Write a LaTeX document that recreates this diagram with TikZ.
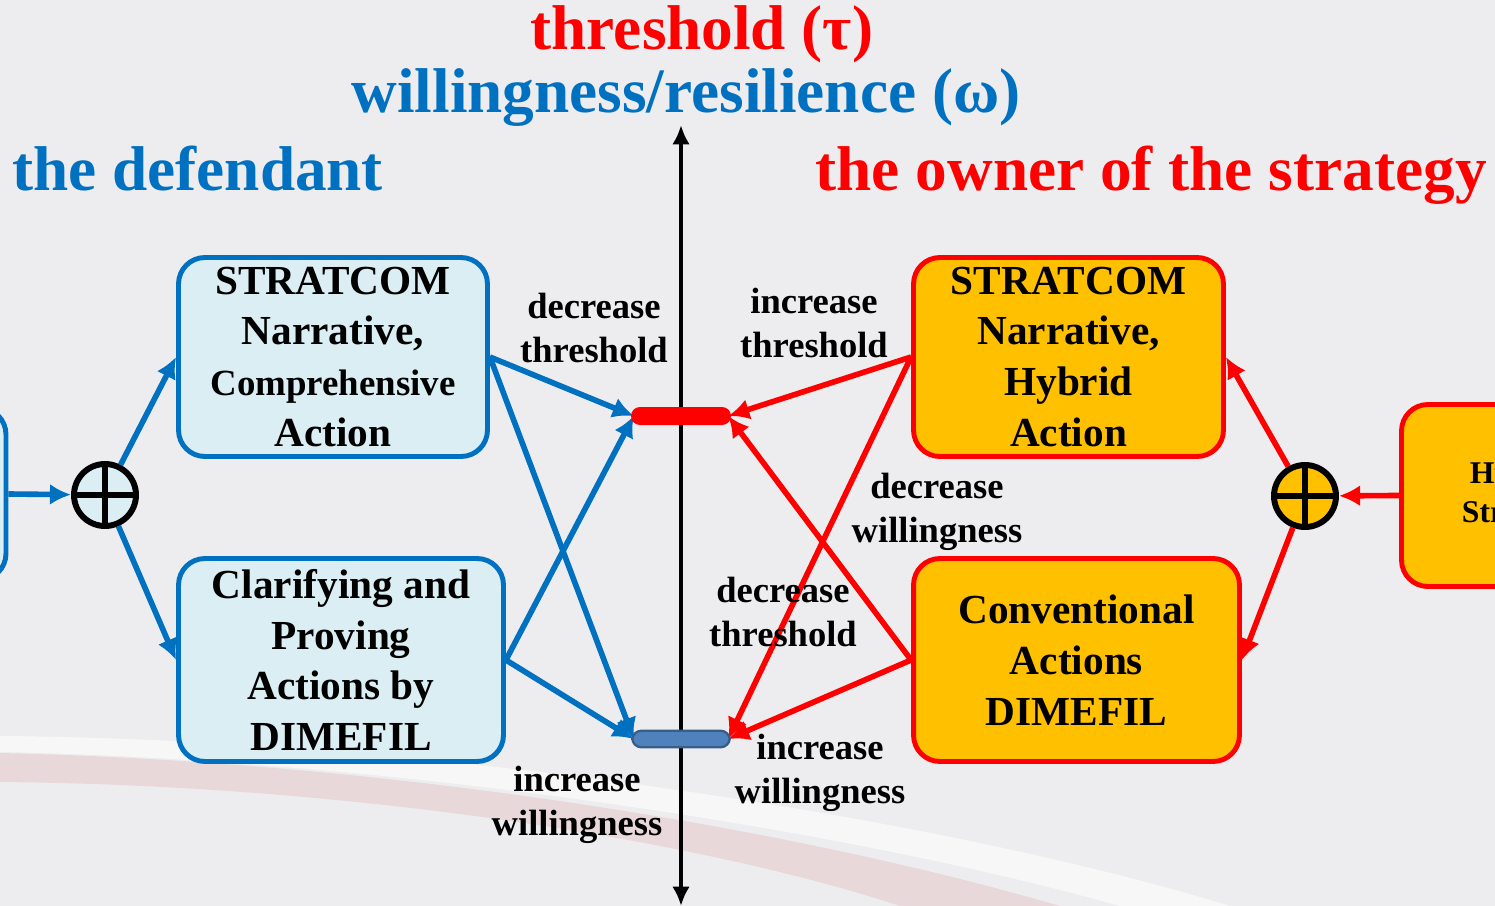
\documentclass[tikz,border=0pt]{standalone}
\usepackage{fontspec}
\setmainfont{Liberation Serif}
\usetikzlibrary{shapes, positioning, arrows.meta}

\definecolor{defblue}{HTML}{0070C0}
\definecolor{defpale}{HTML}{DAEEF3}
\definecolor{ownred}{HTML}{FF0000}
\definecolor{ownorange}{HTML}{FFC000}
\definecolor{barblue}{HTML}{4F81BD}
\definecolor{barrim}{HTML}{385D8A}
\definecolor{bggray}{HTML}{EDEDEF}
\definecolor{swooshpink}{HTML}{E8D3D5}

\begin{document}
\begin{tikzpicture}[x=0.02cm, y=-0.02cm]
  \newcommand\titlefont{\fontsize{36}{38}\selectfont\bfseries}
  \newcommand\boxfont{\fontsize{23.5}{29}\selectfont\bfseries}
  \newcommand\lblfont{\fontsize{20.8}{25}\selectfont\bfseries}

  \tikzset{actbox/.style={draw, rounded corners=15pt, line width=2.8pt, inner sep=2pt, align=center, font=\boxfont}}
  \tikzset{defbox/.style={actbox, draw=defblue, fill=defpale}}
  \tikzset{ownbox/.style={actbox, draw=ownred, fill=ownorange}}
  \tikzset{summer/.style={circle, draw=black, line width=3.4pt, minimum size=1.24cm, inner sep=0pt}}
  \tikzset{effect/.style={-{Latex[length=12pt, width=12pt]}, line width=3.2pt}}
  \tikzset{defarrow/.style={effect, draw=defblue, fill=defblue}}
  \tikzset{ownarrow/.style={effect, draw=ownred, fill=ownred}}
  \tikzset{levelbar/.style={rounded corners=0.18cm, minimum width=2cm, minimum height=0.36cm, inner sep=0pt}}
  \tikzset{lbl/.style={align=center, font=\lblfont}}

  \useasboundingbox (0,0) rectangle (1495,906);
  \clip (0,0) rectangle (1495,906);

  % backdrop
  \fill[bggray] (0,0) rectangle (1495,906);
  \fill[white, opacity=0.6] (0,736) .. controls (450,740) and (950,820) .. (1230,906)
    -- (1120,906) .. controls (850,830) and (400,760) .. (0,752) -- cycle;
  \fill[swooshpink, opacity=0.8] (0,753) .. controls (400,762) and (800,830) .. (1060,906)
    -- (900,906) .. controls (700,840) and (350,785) .. (0,782) -- cycle;

  % headings
  \node[anchor=base, text=ownred, font=\titlefont] (thrtitle) at (702,50) {threshold (τ)};
  \node[anchor=base, text=defblue, font=\titlefont] (wiltitle) at (686,112) {willingness/resilience (ω)};
  \node[anchor=base west, text=defblue, font=\titlefont, inner sep=0pt] (deftitle) at (12,190) {the defendant};
  \node[anchor=base east, text=ownred, font=\titlefont, inner sep=0pt] (owntitle) at (1487,190) {the owner of the strategy};

  % axis
  \coordinate (axtop) at (681,125);
  \coordinate (axbot) at (681,906);
  \draw[{Latex[length=11pt, width=10pt]}-{Latex[length=11pt, width=10pt]}, line width=2.8pt] (axbot) -- (axtop);

  % the defendant
  \node[defbox, minimum width=6.18cm, minimum height=3.98cm] (lb1) at (333,357)
    {STRATCOM\\Narrative,\\{\fontsize{21}{29}\selectfont Comprehensive}\\Action};
  \node[defbox, minimum width=6.5cm, minimum height=4.06cm] (lb2) at (341,660)
    {Clarifying and\\Proving\\Actions by\\DIMEFIL};
  \node[defbox, minimum width=3.96cm, minimum height=3.44cm] (lx) at (-93,494) {};
  \node[summer, fill=defpale] (lc) at (105,495) {};
  \draw[line width=3pt] (lc.north) -- (lc.south) (lc.west) -- (lc.east);

  % the owner of the strategy
  \node[ownbox, minimum width=6.2cm, minimum height=3.98cm] (rb1) at (1068.5,357)
    {STRATCOM\\Narrative,\\Hybrid\\Action};
  \node[ownbox, minimum width=6.52cm, minimum height=4.06cm] (rb2) at (1076.5,660)
    {Conventional\\Actions\\DIMEFIL};
  \node[ownbox, minimum width=4.7cm, minimum height=3.64cm, font=\fontsize{18}{22}\selectfont\bfseries] (rx) at (1519,495.5)
    {Hybrid\\Strategy};
  \node[summer, fill=ownorange] (rc) at (1305,496) {};
  \draw[line width=3pt] (rc.north) -- (rc.south) (rc.west) -- (rc.east);

  % branching
  \draw[defarrow] (lx.east) -- (lc);
  \draw[defarrow] (lc) -- (lb1.west);
  \draw[defarrow] (lc) -- (lb2.west);
  \draw[ownarrow] (rx.west) -- (rc);
  \draw[ownarrow] (rc) -- (rb1.east);
  \draw[ownarrow] (rc) -- (rb2.east);

  % threshold and willingness levels
  \coordinate (thrpos) at (681,416);
  \coordinate (wilpos) at (681,739);
  \foreach \src in {lb1, lb2}{
    \draw[defarrow] (\src.east) -- ([xshift=1pt]thrpos -| 632,0);
    \draw[defarrow] (\src.east) -- ([xshift=1pt]wilpos -| 632,0);
  }
  \foreach \src in {rb1, rb2}{
    \draw[ownarrow] (\src.west) -- ([xshift=-1pt]thrpos -| 730,0);
    \draw[ownarrow] (\src.west) -- ([xshift=-1pt]wilpos -| 730,0);
  }
  \node[levelbar, fill=ownred] (thr) at (thrpos) {};
  \node[levelbar, fill=barblue, draw=barrim, line width=1.3pt, minimum width=1.95cm, minimum height=0.33cm] (wil) at (wilpos) {};

  % effects
  \node[lbl] (lbl1) at (594,328) {decrease\\threshold};
  \node[lbl] (lbl2) at (577,805) {increase\\willingness};
  \node[lbl] (lbl3) at (814,323) {increase\\threshold};
  \node[lbl] (lbl4) at (937,512) {decrease\\willingness};
  \node[lbl] (lbl5) at (783,612) {decrease\\threshold};
  \node[lbl] (lbl6) at (820,773) {increase\\willingness};
\end{tikzpicture}
\end{document}
